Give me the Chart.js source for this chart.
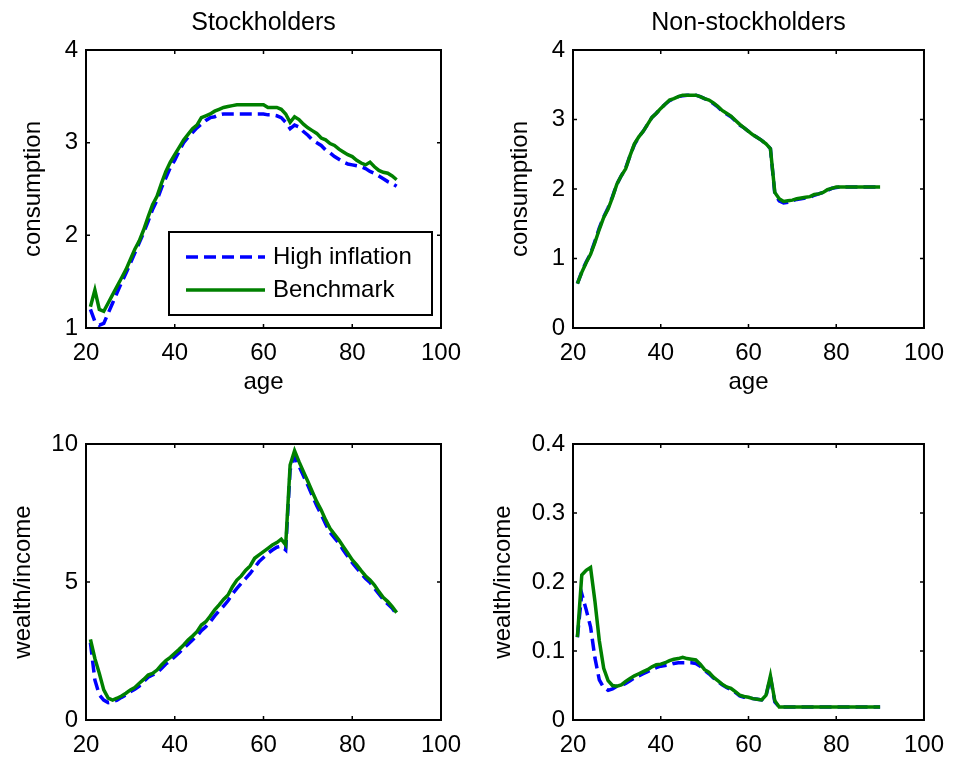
<!DOCTYPE html>
<html><head><meta charset="utf-8">
<script src="https://cdn.jsdelivr.net/npm/chart.js@4.4.0/dist/chart.umd.min.js"></script>
<style>
html,body{margin:0;padding:0;background:#fff;}
#wrap{position:relative;width:955px;height:760px;overflow:hidden;}
canvas{position:absolute;}
</style></head><body>
<div id="wrap">
<canvas id="c1" width="477" height="400" style="left:0px;top:0px"></canvas>
<canvas id="c2" width="478" height="400" style="left:477px;top:0px"></canvas>
<canvas id="c3" width="477" height="360" style="left:0px;top:400px"></canvas>
<canvas id="c4" width="478" height="360" style="left:477px;top:400px"></canvas>
</div>
<script>
// ---------- data ----------
const ages = [21,22,23,24,25,26,27,28,29,30,31,32,33,34,35,36,37,38,39,40,41,42,43,44,45,46,47,48,49,50,51,52,53,54,55,56,57,58,59,60,61,62,63,64,65,66,67,68,69,70,71,72,73,74,75,76,77,78,79,80,81,82,83,84,85,86,87,88,89,90];
const seriesNames = ['High inflation', 'Benchmark'];
const xTicks = [20, 40, 60, 80, 100];

// Stockholders consumption
const stockConsHigh = [1.20,1.07,1.03,1.05,1.16,1.27,1.38,1.49,1.59,1.70,1.81,1.92,2.03,2.15,2.28,2.38,2.51,2.62,2.73,2.81,2.91,3.00,3.06,3.11,3.16,3.20,3.24,3.27,3.28,3.30,3.31,3.31,3.31,3.31,3.31,3.31,3.31,3.31,3.31,3.31,3.30,3.30,3.29,3.27,3.22,3.15,3.19,3.17,3.12,3.08,3.03,3.00,2.97,2.92,2.89,2.85,2.82,2.79,2.77,2.76,2.75,2.74,2.72,2.69,2.67,2.64,2.61,2.58,2.56,2.53];
const stockConsBench = [1.23,1.41,1.20,1.18,1.27,1.36,1.45,1.54,1.63,1.74,1.85,1.94,2.06,2.20,2.33,2.42,2.56,2.69,2.79,2.87,2.95,3.03,3.09,3.15,3.19,3.27,3.29,3.31,3.34,3.36,3.38,3.39,3.40,3.41,3.41,3.41,3.41,3.41,3.41,3.41,3.38,3.38,3.38,3.36,3.31,3.22,3.28,3.25,3.20,3.16,3.13,3.10,3.05,3.03,2.99,2.97,2.93,2.90,2.87,2.85,2.81,2.78,2.76,2.79,2.74,2.70,2.68,2.67,2.64,2.60];

// Non-stockholders consumption
const nonConsHigh = [0.64,0.81,0.95,1.07,1.25,1.44,1.60,1.73,1.89,2.07,2.19,2.30,2.48,2.64,2.75,2.83,2.93,3.03,3.09,3.16,3.22,3.27,3.30,3.33,3.34,3.35,3.35,3.35,3.33,3.30,3.27,3.23,3.18,3.12,3.08,3.04,2.98,2.92,2.88,2.83,2.78,2.74,2.70,2.65,2.58,1.93,1.83,1.80,1.81,1.83,1.85,1.86,1.87,1.88,1.91,1.93,1.95,1.98,2.01,2.02,2.03,2.03,2.03,2.03,2.03,2.03,2.03,2.03,2.03,2.03];
const nonConsBench = [0.64,0.80,0.94,1.06,1.23,1.42,1.59,1.71,1.88,2.07,2.19,2.29,2.48,2.65,2.75,2.83,2.93,3.03,3.09,3.16,3.22,3.28,3.30,3.33,3.35,3.35,3.35,3.35,3.33,3.30,3.28,3.24,3.19,3.13,3.09,3.05,2.99,2.93,2.88,2.83,2.78,2.74,2.70,2.65,2.58,1.95,1.86,1.82,1.83,1.84,1.86,1.87,1.88,1.89,1.92,1.93,1.95,1.99,2.01,2.03,2.03,2.03,2.03,2.03,2.03,2.03,2.03,2.03,2.03,2.03];

// Stockholders wealth/income
const stockWealthHigh = [2.80,1.45,0.91,0.72,0.63,0.66,0.72,0.82,0.91,1.03,1.11,1.23,1.39,1.55,1.63,1.71,1.87,2.03,2.15,2.29,2.44,2.60,2.75,2.90,3.04,3.24,3.38,3.56,3.77,3.96,4.13,4.32,4.57,4.77,4.95,5.13,5.31,5.53,5.74,5.89,6.04,6.16,6.26,6.30,6.16,9.06,9.54,9.20,8.85,8.50,8.12,7.76,7.45,7.10,6.80,6.60,6.40,6.15,5.92,5.70,5.50,5.31,5.13,4.98,4.77,4.57,4.37,4.20,4.05,3.82];
const stockWealthBench = [2.92,2.23,1.69,1.09,0.79,0.72,0.79,0.87,0.97,1.09,1.18,1.33,1.47,1.63,1.69,1.81,1.99,2.15,2.27,2.42,2.56,2.72,2.90,3.04,3.20,3.44,3.56,3.77,3.99,4.17,4.37,4.53,4.83,5.07,5.22,5.43,5.58,5.86,5.98,6.10,6.22,6.34,6.43,6.55,6.34,9.24,9.76,9.36,9.00,8.64,8.27,7.91,7.61,7.25,6.94,6.73,6.52,6.28,6.04,5.80,5.62,5.41,5.22,5.07,4.89,4.65,4.44,4.29,4.11,3.89];

// Non-stockholders wealth/income
const nonWealthHigh = [0.120,0.183,0.160,0.135,0.090,0.058,0.047,0.043,0.045,0.049,0.050,0.053,0.057,0.061,0.064,0.067,0.070,0.073,0.076,0.078,0.079,0.080,0.082,0.083,0.083,0.083,0.083,0.082,0.078,0.072,0.067,0.061,0.056,0.051,0.047,0.044,0.040,0.035,0.033,0.032,0.031,0.030,0.029,0.035,0.062,0.026,0.019,0.019,0.019,0.019,0.019,0.019,0.019,0.019,0.019,0.019,0.019,0.019,0.019,0.019,0.019,0.019,0.019,0.019,0.019,0.019,0.019,0.019,0.019,0.019];
const nonWealthBench = [0.120,0.210,0.217,0.221,0.172,0.115,0.075,0.057,0.050,0.049,0.051,0.056,0.060,0.064,0.067,0.070,0.073,0.077,0.080,0.081,0.083,0.086,0.088,0.089,0.091,0.089,0.088,0.087,0.081,0.073,0.069,0.062,0.057,0.052,0.048,0.046,0.041,0.036,0.034,0.033,0.031,0.030,0.029,0.036,0.064,0.028,0.019,0.019,0.019,0.019,0.019,0.019,0.019,0.019,0.019,0.019,0.019,0.019,0.019,0.019,0.019,0.019,0.019,0.019,0.019,0.019,0.019,0.019,0.019,0.019];

// ---------- rendering ----------
Chart.defaults.font.family = '"Liberation Sans", Arial, Helvetica, sans-serif';
Chart.defaults.font.size = 24;
Chart.defaults.color = '#000';

const BLUE = '#0000ff', GREEN = '#008000';

const framePlugin = {
  id: 'frame',
  afterDatasetsDraw(chart) {
    const {ctx, chartArea: a, scales: {x, y}} = chart;
    ctx.save();
    ctx.strokeStyle = '#000';
    ctx.lineWidth = 1.5;
    const tl = 4;
    ctx.beginPath();
    x.ticks.forEach(t => {
      const p = x.getPixelForValue(t.value);
      ctx.moveTo(p, a.bottom); ctx.lineTo(p, a.bottom - tl);
      ctx.moveTo(p, a.top); ctx.lineTo(p, a.top + tl);
    });
    y.ticks.forEach(t => {
      const p = y.getPixelForValue(t.value);
      ctx.moveTo(a.left, p); ctx.lineTo(a.left + tl, p);
      ctx.moveTo(a.right, p); ctx.lineTo(a.right - tl, p);
    });
    ctx.stroke();
    ctx.lineWidth = 2;
    ctx.strokeRect(a.left, a.top, a.right - a.left, a.bottom - a.top);
    ctx.restore();
  }
};

const legendPlugin = {
  id: 'boxLegend',
  afterDatasetsDraw(chart, args, opts) {
    if (!opts || !opts.show) return;
    const {ctx, chartArea: a} = chart;
    const bx = a.left + opts.dx, by = a.top + opts.dy, bw = opts.w, bh = opts.h;
    ctx.save();
    ctx.fillStyle = '#fff';
    ctx.fillRect(bx, by, bw, bh);
    ctx.strokeStyle = '#000';
    ctx.lineWidth = 2;
    ctx.strokeRect(bx, by, bw, bh);
    chart.data.datasets.forEach((ds, i) => {
      const yy = by + opts.rowY[i];
      ctx.beginPath();
      ctx.strokeStyle = ds.borderColor;
      ctx.lineWidth = ds.borderWidth;
      ctx.setLineDash(ds.borderDash || []);
      ctx.moveTo(bx + opts.lineX0, yy);
      ctx.lineTo(bx + opts.lineX1, yy);
      ctx.stroke();
      ctx.setLineDash([]);
      ctx.fillStyle = '#000';
      ctx.font = '24px "Liberation Sans", Arial, sans-serif';
      ctx.textBaseline = 'middle';
      ctx.textAlign = 'left';
      ctx.fillText(ds.label, bx + opts.textX, yy);
    });
    ctx.restore();
  }
};

function pts(arr) { return ages.map((a, i) => ({x: a, y: arr[i]})); }

function makeChart(id, c) {
  return new Chart(document.getElementById(id), {
    type: 'line',
    data: {
      datasets: [
        {label: seriesNames[0], data: pts(c.high), borderColor: BLUE, borderWidth: 3.5, borderDash: [12, 6], pointRadius: 0, tension: 0, fill: false, order: 1},
        {label: seriesNames[1], data: pts(c.bench), borderColor: GREEN, borderWidth: 3.5, pointRadius: 0, tension: 0, fill: false, order: 0}
      ]
    },
    options: {
      responsive: false,
      animation: false,
      events: [],
      layout: {padding: c.pad},
      plugins: {
        legend: {display: false},
        tooltip: {enabled: false},
        title: c.title ? {display: true, fullSize: false, text: c.title, font: {size: 25, weight: 'normal'}, padding: {top: 8, bottom: 12}} : {display: false},
        boxLegend: c.legend || {show: false}
      },
      scales: {
        x: {
          type: 'linear', min: 20, max: 100,
          afterBuildTicks: s => { s.ticks = xTicks.map(v => ({value: v})); },
          ticks: {padding: 11, maxRotation: 0, autoSkip: false, font: {size: 24}},
          grid: {display: false, drawTicks: false},
          border: {display: false},
          title: c.xTitle ? {display: true, text: c.xTitle, font: {size: 24}, padding: {top: 0, bottom: 3}} : {display: false},
          afterFit: s => { s.height = c.xH; }
        },
        y: {
          type: 'linear', min: c.yMin, max: c.yMax,
          afterBuildTicks: s => { s.ticks = c.yTicks.map(v => ({value: v})); },
          ticks: {padding: 8, font: {size: 24}},
          grid: {display: false, drawTicks: false},
          border: {display: false},
          title: {display: true, text: c.yTitle, font: {size: 24}, padding: {top: c.yTitlePad, bottom: 0}},
          afterFit: s => { s.width = c.yW; }
        }
      }
    },
    plugins: [framePlugin, legendPlugin]
  });
}

makeChart('c1', {
  high: stockConsHigh, bench: stockConsBench,
  yMin: 1, yMax: 4, yTicks: [1, 2, 3, 4],
  title: 'Stockholders', xTitle: 'age', yTitle: 'consumption', yTitlePad: 19,
  xH: 72, yW: 86, pad: {top: 0, right: 36, bottom: 0, left: 0},
  legend: {show: true, dx: 83, dy: 182, w: 263, h: 83, lineX0: 17, lineX1: 96, textX: 104, rowY: [25, 58]}
});
makeChart('c2', {
  high: nonConsHigh, bench: nonConsBench,
  yMin: 0, yMax: 4, yTicks: [0, 1, 2, 3, 4],
  title: 'Non-stockholders', xTitle: 'age', yTitle: 'consumption', yTitlePad: 29,
  xH: 72, yW: 96, pad: {top: 0, right: 27, bottom: 0, left: 0}
});
makeChart('c3', {
  high: stockWealthHigh, bench: stockWealthBench,
  yMin: 0, yMax: 10, yTicks: [0, 5, 10],
  title: null, xTitle: null, yTitle: 'wealth/income', yTitlePad: 9,
  xH: 40, yW: 86, pad: {top: 44, right: 36, bottom: 0, left: 0}
});
makeChart('c4', {
  high: nonWealthHigh, bench: nonWealthBench,
  yMin: 0, yMax: 0.4, yTicks: [0, 0.1, 0.2, 0.3, 0.4],
  title: null, xTitle: null, yTitle: 'wealth/income', yTitlePad: 12,
  xH: 40, yW: 96, pad: {top: 44, right: 27, bottom: 0, left: 0}
});
</script>
</body></html>
